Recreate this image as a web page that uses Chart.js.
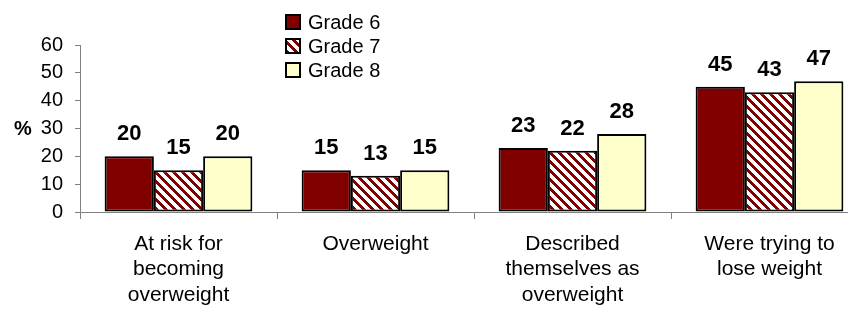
<!DOCTYPE html>
<html>
<head>
<meta charset="utf-8">
<script src="https://cdn.jsdelivr.net/npm/chart.js@4/dist/chart.umd.min.js"></script>
<style>
  html, body { margin: 0; padding: 0; background: #fff; overflow: hidden; }
  #frame { width: 848px; height: 324px; overflow: hidden; position: relative; }
  canvas { display: block; }
</style>
</head>
<body>
<div id="frame"><canvas id="chart" width="868" height="324"></canvas></div>
<script>
// Survey categories (multi-line axis labels)
const categories = [
  ["At risk for", "becoming", "overweight"],
  ["Overweight"],
  ["Described", "themselves as", "overweight"],
  ["Were trying to", "lose weight"]
];
const seriesNames = ["Grade 6", "Grade 7", "Grade 8"];
const grade6 = [20, 15, 23, 45];
const grade7 = [15, 13, 22, 43];
const grade8 = [20, 15, 28, 47];
const yTicks = [0, 10, 20, 30, 40, 50, 60];

const FONT = '"Liberation Sans", Arial, Helvetica, sans-serif';
const DARK_RED = '#800000';
const PALE_YELLOW = '#FFFFCC';

// Diagonal "\" stripes, dark red on white
function stripePattern(period, thick) {
  const tile = document.createElement('canvas');
  tile.width = period; tile.height = period;
  const g = tile.getContext('2d');
  const img = g.createImageData(period, period);
  for (let y = 0; y < period; y++) {
    for (let x = 0; x < period; x++) {
      const d = (((x - y) % period) + period) % period;
      const i = (y * period + x) * 4;
      const dark = d < thick;
      img.data[i] = dark ? 128 : 255;
      img.data[i + 1] = dark ? 0 : 255;
      img.data[i + 2] = dark ? 0 : 255;
      img.data[i + 3] = 255;
    }
  }
  g.putImageData(img, 0, 0);
  return g.createPattern(tile, 'repeat');
}

const ctx = document.getElementById('chart').getContext('2d');
const hatch = stripePattern(9, 4);

// Value labels above every bar
const valueLabels = {
  id: 'valueLabels',
  afterDatasetsDraw(chart) {
    const c = chart.ctx;
    c.save();
    c.font = 'bold 22px ' + FONT;
    c.fillStyle = '#000';
    c.textAlign = 'center';
    c.textBaseline = 'alphabetic';
    chart.data.datasets.forEach((ds, i) => {
      chart.getDatasetMeta(i).data.forEach((bar, j) => {
        c.fillText(String(ds.data[j]), bar.x, bar.y - 16);
      });
    });
    c.restore();
  }
};

// Stacked legend and the "%" axis marker
const sideText = {
  id: 'sideText',
  afterDraw(chart) {
    const c = chart.ctx;
    c.save();
    c.font = 'bold 20px ' + FONT;
    c.fillStyle = '#000';
    c.textAlign = 'left';
    c.textBaseline = 'middle';
    c.fillText('%', 14, chart.scales.y.getPixelForValue(30) + 1);

    c.font = '20px ' + FONT;
    chart.data.datasets.forEach((ds, i) => {
      const cy = 22 + i * 24, size = 14, boxX = 286;
      c.fillStyle = ds.backgroundColor;
      c.fillRect(boxX, cy - size / 2, size, size);
      c.lineWidth = 2;
      c.strokeStyle = '#000';
      c.strokeRect(boxX, cy - size / 2, size, size);
      c.fillStyle = '#000';
      c.fillText(ds.label, 308, cy + 1);
    });
    c.restore();
  }
};

const colors = [DARK_RED, hatch, PALE_YELLOW];
const series = [grade6, grade7, grade8];

new Chart(ctx, {
  type: 'bar',
  data: {
    labels: categories,
    datasets: series.map((values, i) => ({
      label: seriesNames[i],
      data: values,
      backgroundColor: colors[i],
      borderColor: '#000',
      borderWidth: 2,
      borderSkipped: false,
      categoryPercentage: 0.75,
      barPercentage: 1.0
    }))
  },
  options: {
    responsive: false,
    animation: false,
    devicePixelRatio: 1,
    layout: { padding: { top: 45, left: 0, right: 0, bottom: 0 } },
    plugins: { legend: { display: false }, tooltip: { enabled: false } },
    scales: {
      x: {
        grid: { offset: true, drawOnChartArea: false, tickLength: 7, color: '#808080', lineWidth: 1 },
        border: { color: '#808080', width: 1 },
        ticks: {
          color: '#000',
          font: { family: FONT, size: 21, lineHeight: '25.5px' },
          padding: 12,
          maxRotation: 0,
          autoSkip: false
        },
        afterFit(scale) { scale.height = 112; }
      },
      y: {
        min: yTicks[0],
        max: yTicks[yTicks.length - 1],
        afterBuildTicks(scale) { scale.ticks = yTicks.map(v => ({ value: v })); },
        grid: { drawOnChartArea: false, tickLength: 5, color: '#808080', lineWidth: 1 },
        border: { color: '#808080', width: 1 },
        ticks: { color: '#000', font: { family: FONT, size: 20 }, padding: 12 },
        afterFit(scale) { scale.width = 80; }
      }
    }
  },
  plugins: [valueLabels, sideText]
});
</script>
</body>
</html>
